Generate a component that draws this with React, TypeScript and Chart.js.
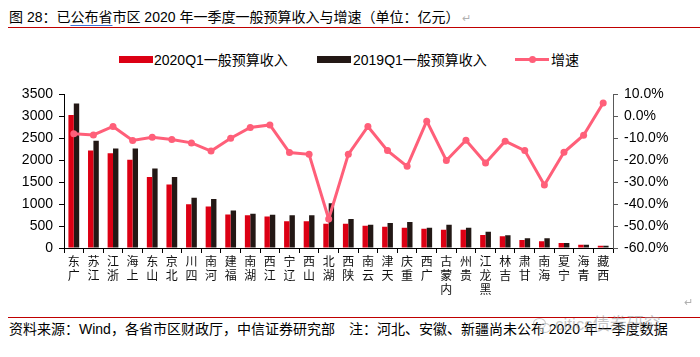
import React, { useEffect, useRef } from 'react';
import { Chart, registerables } from 'chart.js';

Chart.register(...registerables);

const categories = ['广东', '江苏', '浙江', '上海', '山东', '北京', '四川', '河南', '福建', '湖南', '江西', '辽宁', '山西', '湖北', '陕西', '云南', '天津', '重庆', '广西', '内蒙古', '贵州', '黑龙江', '吉林', '甘肃', '海南', '宁夏', '青海', '西藏'];
const revenue2020 = [3030, 2220, 2160, 2010, 1615, 1445, 995, 945, 765, 745, 720, 610, 610, 550, 550, 505, 485, 460, 440, 415, 415, 297, 268, 180, 156, 112, 74, 52];
const revenue2019 = [3290, 2445, 2265, 2265, 1810, 1615, 1145, 1115, 855, 780, 760, 745, 745, 1020, 660, 528, 572, 595, 460, 528, 460, 371, 290, 223, 223, 112, 74, 52];
const growthRate = [-7.9, -8.5, -4.6, -11.0, -9.5, -10.6, -12.1, -15.8, -10.0, -5.1, -3.9, -16.5, -17.3, -46.8, -17.3, -4.6, -15.6, -22.8, -2.2, -20.1, -10.9, -21.3, -11.3, -15.6, -31.3, -16.4, -8.6, 6.1];

const seriesNames = ['2020Q1一般预算收入', '2019Q1一般预算收入', '增速'];
const leftAxis = { min: 0, max: 3500, step: 500 };
const rightAxis = { min: -60, max: 10, step: 10 };

const titleText = ['图 28：已', '公布省', '市区 2020 年一季度一般预算收入与增速（单位：亿元）'];
const footerText = '资料来源：Wind，各省市区财政厅，中信证券研究部　注：河北、安徽、新疆尚未公布 2020 年一季度数据';
const watermarkText = 'citics债券研究';

const RED = '#dc0014';
const BLACK = '#231815';
const PINK = '#ff5f79';
const FONT = '"Liberation Sans", "Noto Sans CJK SC", sans-serif';

export default function App() {
  const canvasRef = useRef<HTMLCanvasElement | null>(null);

  useEffect(() => {
    const canvas = canvasRef.current;
    if (!canvas) return;
    const chart = new Chart(canvas, {
      type: 'bar',
      data: {
        labels: categories,
        datasets: [
          {
            type: 'bar',
            label: seriesNames[0],
            data: revenue2020,
            backgroundColor: RED,
            yAxisID: 'y',
            order: 1,
            categoryPercentage: 0.55,
            barPercentage: 1.0,
          },
          {
            type: 'bar',
            label: seriesNames[1],
            data: revenue2019,
            backgroundColor: BLACK,
            yAxisID: 'y',
            order: 1,
            categoryPercentage: 0.55,
            barPercentage: 1.0,
          },
          {
            type: 'line',
            label: seriesNames[2],
            data: growthRate,
            borderColor: PINK,
            backgroundColor: PINK,
            borderWidth: 3,
            pointRadius: 3.5,
            pointBorderWidth: 0,
            pointBackgroundColor: PINK,
            tension: 0,
            yAxisID: 'y1',
            order: 0,
          } as any,
        ],
      },
      options: {
        responsive: false,
        animation: false,
        devicePixelRatio: 1,
        layout: { padding: { top: 12, left: 0, right: 0, bottom: 0 } },
        plugins: {
          legend: { display: false },
          tooltip: { enabled: false },
          title: { display: false },
        },
        scales: {
          x: {
            grid: { display: true, drawOnChartArea: false, drawTicks: true, tickLength: 5, color: '#000', offset: true },
            border: { display: true, color: '#000', width: 1 },
            ticks: {
              autoSkip: false,
              maxRotation: 0,
              minRotation: 0,
              padding: 2,
              color: '#111',
              font: { family: FONT, size: 12, lineHeight: 1.2 },
              callback: (_v: any, i: number) => categories[i].split('').reverse(),
            },
            afterFit: (s: any) => { s.height = 62; },
          },
          y: {
            position: 'left',
            min: leftAxis.min,
            max: leftAxis.max,
            grid: { display: true, drawOnChartArea: false, drawTicks: true, tickLength: 5, color: '#000' },
            border: { display: true, color: '#000', width: 1 },
            ticks: {
              stepSize: leftAxis.step,
              padding: 6,
              color: '#000',
              font: { family: FONT, size: 14 },
              callback: (v: any) => String(v),
            },
            afterFit: (s: any) => { s.width = 64; },
          },
          y1: {
            position: 'right',
            min: rightAxis.min,
            max: rightAxis.max,
            grid: { display: true, drawOnChartArea: false, drawTicks: true, tickLength: 5, color: '#595959' },
            border: { display: true, color: '#595959', width: 1 },
            ticks: {
              stepSize: rightAxis.step,
              padding: 6,
              color: '#000',
              font: { family: FONT, size: 14 },
              callback: (v: any) => Number(v).toFixed(1) + '%',
            },
            afterFit: (s: any) => { s.width = 87; },
          },
        },
      },
    });
    return () => chart.destroy();
  }, []);

  const legendItem = (left: number, textLeft: number, swatch: React.ReactNode, text: string) => (
    <>
      <div style={{ position: 'absolute', left, top: 55, width: 34, height: 10 }}>{swatch}</div>
      <div style={{ position: 'absolute', left: textLeft, top: 51, fontSize: 14, lineHeight: '18px', whiteSpace: 'nowrap', color: '#000' }}>{text}</div>
    </>
  );

  return (
    <div style={{ position: 'absolute', left: 0, top: 0, width: 700, height: 357, background: '#fff', fontFamily: FONT, overflow: 'hidden' }}>
      <div style={{ position: 'absolute', left: 9, top: 8, fontSize: 14, lineHeight: '18px', whiteSpace: 'nowrap', color: '#000' }}>
        {titleText[0]}
        <span style={{ textDecoration: 'underline', textDecorationColor: '#3b6fd6', textUnderlineOffset: '3px' }}>{titleText[1]}</span>
        {titleText[2]}
        <span style={{ color: '#b0b0b0', fontSize: 11, marginLeft: 3 }}>↵</span>
      </div>
      <div style={{ position: 'absolute', left: 8, top: 27, width: 692, height: 1, background: '#c00000' }} />

      {legendItem(119, 154, <div style={{ position: 'absolute', left: 0, top: 1, width: 34, height: 7, background: RED }} />, seriesNames[0])}
      {legendItem(317, 353, <div style={{ position: 'absolute', left: 0, top: 1, width: 34, height: 7, background: BLACK }} />, seriesNames[1])}
      {legendItem(515, 551,
        <>
          <div style={{ position: 'absolute', left: 0, top: 3, width: 34, height: 3, background: PINK }} />
          <div style={{ position: 'absolute', left: 14, top: 1, width: 7, height: 7, borderRadius: '50%', background: PINK }} />
        </>, seriesNames[2])}

      <div style={{ position: 'absolute', left: 0, top: 80, width: 700, height: 230 }}>
        <canvas ref={canvasRef} width={700} height={230} style={{ display: 'block', width: 700, height: 230 }} />
      </div>

      <div style={{ position: 'absolute', left: 684, top: 296, fontSize: 11, color: '#b0b0b0' }}>↵</div>
      <div style={{ position: 'absolute', left: 8, top: 317, width: 692, height: 1, background: '#c00000' }} />
      <div style={{ position: 'absolute', left: 9, top: 320, fontSize: 14, lineHeight: '18px', whiteSpace: 'nowrap', color: '#000' }}>{footerText}</div>
      <div style={{ position: 'absolute', left: 533, top: 318, width: 11, height: 9, borderRadius: '50%', border: '1.5px solid rgba(150,150,150,0.5)' }} />
      <div style={{ position: 'absolute', left: 539, top: 323, width: 10, height: 8, borderRadius: '50%', border: '1.5px solid rgba(150,150,150,0.5)', background: 'rgba(255,255,255,0.4)' }} />
      <div style={{ position: 'absolute', left: 555, top: 315, fontSize: 17, lineHeight: '20px', whiteSpace: 'nowrap', color: 'rgba(150,150,150,0.55)' }}>{watermarkText}</div>
    </div>
  );
}
